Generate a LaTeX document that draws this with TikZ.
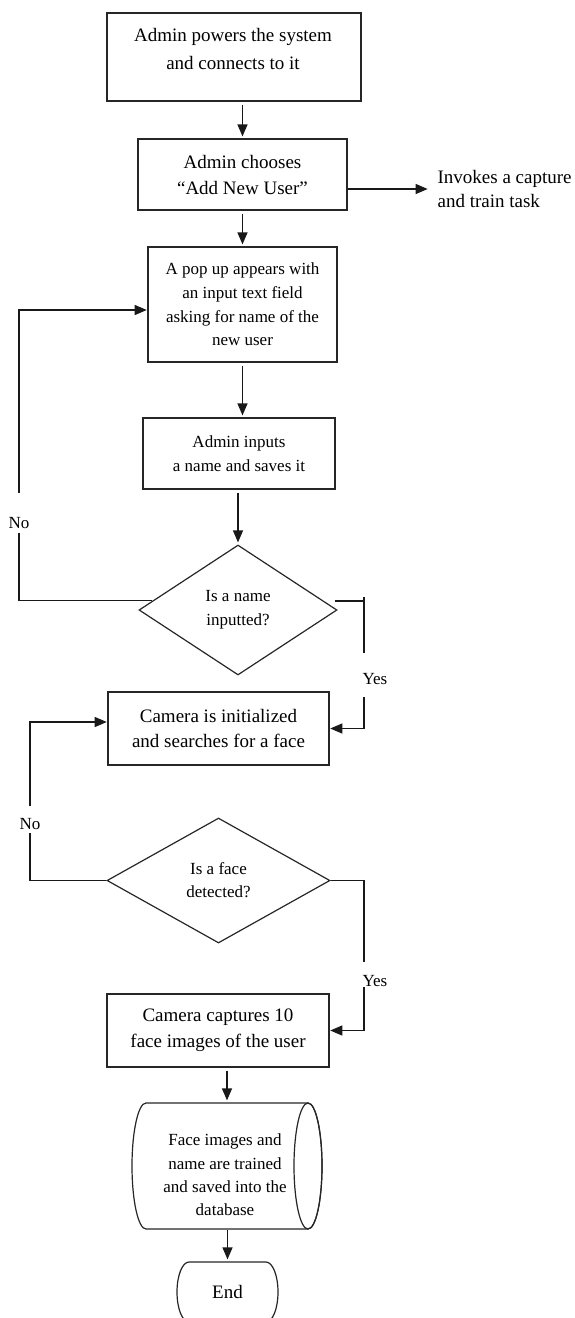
\documentclass[tikz,border=0pt]{standalone}
\usepackage{fontspec}
\setmainfont{Liberation Serif}
\usetikzlibrary{shapes.geometric,arrows.meta,calc}
\begin{document}
\begin{tikzpicture}[x=0.75pt,y=-0.75pt,
  line width=0.9pt, draw=black!85,
  box/.style={draw=black!85, rectangle, inner sep=0pt, align=center},
  dia/.style={draw=black!85, diamond, inner sep=0pt, align=center},
  arr/.style={draw=black!90, -{Triangle[length=9pt,width=7.5pt]}, shorten >=1.5pt, shorten <=2.25pt},
  wire/.style={draw=black!90},
  lbl/.style={font=\fontsize{12.75pt}{15pt}\selectfont, inner sep=0pt},
]
\useasboundingbox (0,0) rectangle (575,1318);
\clip (0,0) rectangle (575,1318);

% boxes
\node[box, minimum width=190.5pt, minimum height=66pt] (b1) at (234,57) {};
\node[align=center, inner sep=0pt, font=\fontsize{14.25pt}{21pt}\selectfont] (t1) at (233,49) {Admin powers the system\\and connects to it};
\node[box, minimum width=156.75pt, minimum height=53.25pt, font=\fontsize{14.25pt}{19.5pt}\selectfont] (b2) at (242.5,174.5) {Admin chooses\\“Add New User”};
\node[anchor=west, align=left, inner sep=0pt, font=\fontsize{14.25pt}{18pt}\selectfont] (inv) at (437,189) {Invokes a capture\\and train task};
\node[box, minimum width=141.75pt, minimum height=86.25pt, font=\fontsize{12.75pt}{17.75pt}\selectfont] (b3) at (242.5,304.5) {A pop up appears with\\an input text field\\asking for name of the\\new user};
\node[box, minimum width=144pt, minimum height=53.25pt, font=\fontsize{12.75pt}{18pt}\selectfont] (b4) at (239,453.5) {Admin inputs\\a name and saves it};
\node[dia, minimum width=148.5pt, minimum height=97.5pt, font=\fontsize{12.75pt}{18pt}\selectfont] (d1) at (238,610) {Is a name\\inputted?};
\node[box, minimum width=165.75pt, minimum height=54.75pt, font=\fontsize{14.25pt}{18.75pt}\selectfont] (b5) at (218.5,728.5) {Camera is initialized\\and searches for a face};
\node[dia, minimum width=167.25pt, minimum height=93.75pt, font=\fontsize{12.75pt}{17.25pt}\selectfont] (d2) at (218.5,880.5) {Is a face\\detected?};
\node[box, minimum width=166.5pt, minimum height=54.75pt, font=\fontsize{14.25pt}{19.5pt}\selectfont] (b6) at (218,1030.5) {Camera captures 10\\face images of the user};

% cylinder (database)
\node[inner sep=0pt, minimum width=142.5pt, minimum height=94.5pt] (cyl) at (227,1166) {};
\draw[draw=black!85] (146,1103) -- (308,1103)
  arc[start angle=90, end angle=-90, x radius=10.5pt, y radius=47.25pt]
  -- (146,1229)
  arc[start angle=270, end angle=90, x radius=10.5pt, y radius=47.25pt] -- cycle;
\draw[draw=black!85] (308,1166) ellipse[x radius=10.5pt, y radius=47.25pt];
\node[align=center, inner sep=0pt, font=\fontsize{12.75pt}{17.5pt}\selectfont] (tcyl) at (225,1175) {Face images and\\name are trained\\and saved into the\\database};

% terminator
\node[inner sep=0pt, minimum width=75.75pt, minimum height=45pt, font=\fontsize{14.25pt}{17pt}\selectfont] (endn) at (227.5,1292) {End};
\draw[draw=black!85] (189,1262) -- (266,1262)
  arc[start angle=90, end angle=-90, x radius=9pt, y radius=22.5pt]
  -- (189,1322)
  arc[start angle=270, end angle=90, x radius=9pt, y radius=22.5pt] -- cycle;

% labels
\node[lbl] (no1) at (19,523) {No};
\node[lbl, anchor=west] (yes1) at (362,679) {Yes};
\node[lbl] (no2) at (30,824) {No};
\node[lbl, anchor=west] (yes2) at (362,981) {Yes};

% helper coordinates
\coordinate (y310) at (0,310);
\coordinate (y722) at (0,722);
\coordinate (ya1) at (364,597);
\coordinate (ya2) at (364,653);
\coordinate (ya3) at (364,697);
\coordinate (yb2) at (364,962);
\coordinate (yb3) at (364,987);

% main flow
\draw[arr] (b2.north |- b1.south) -- (b2.north);
\draw[arr, shorten <=0pt, shorten >=7pt] (b2.east |- inv.west) -- (inv.west);
\draw[arr] (b3.north |- b2.south) -- (b3.north);
\draw[arr] (b3.south) -- (b3.south |- b4.north);
\draw[arr] (d1.north |- b4.south) -- (d1.north);
\draw[arr] (cyl.north |- b6.south) -- (cyl.north);
\draw[arr, shorten <=0pt] (endn.north |- cyl.south) -- (endn.north);

% No loop 1
\draw[wire] ($(d1.west)!0.14!(d1.north)$) -| ($(no1.south)+(0,4)$);
\draw[arr, shorten <=0pt, shorten >=0.5pt] ($(no1.north)+(0,-24)$) |- (b3.west |- y310);

% Yes 1
\draw[wire] ($(d1.east)+(-3,-9)$) -- ($(d1.east)+(27,-9)$);
\draw[wire] (ya1) -- (ya2);
\draw[arr, shorten <=0pt, shorten >=0.5pt] (ya3) |- (b5.east);

% No loop 2
\draw[wire] (d2.west) -| ($(no2.south)+(0,3)$);
\draw[arr, shorten <=0pt, shorten >=0.5pt] ($(no2.north)+(0,-12)$) |- (b5.west |- y722);

% Yes 2
\draw[wire] (d2.east) -| (yb2);
\draw[arr, shorten <=0pt, shorten >=0.5pt] (yb3) |- (b6.east);
\end{tikzpicture}
\end{document}
